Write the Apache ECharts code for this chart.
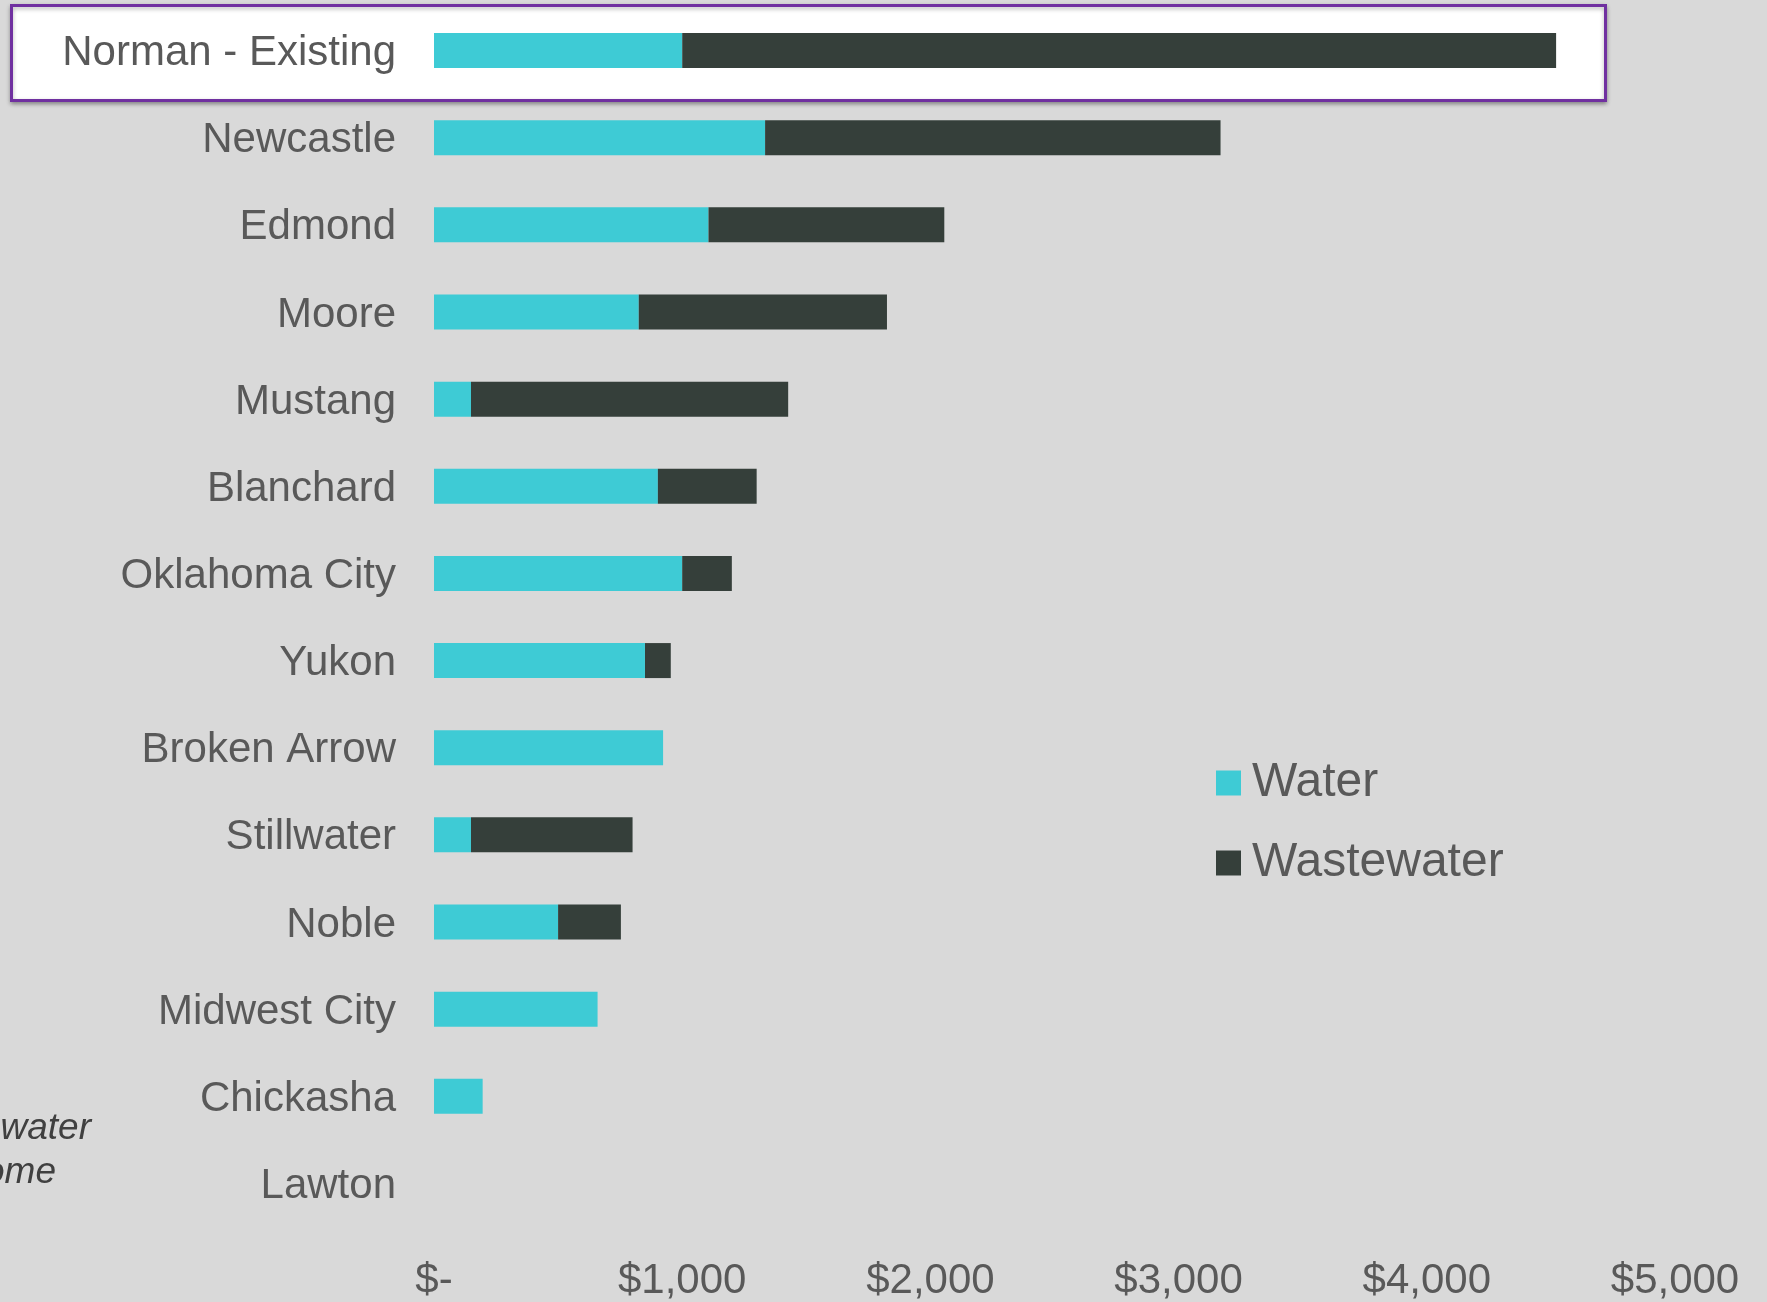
<!DOCTYPE html>
<html>
<head>
<meta charset="utf-8">
<script src="https://cdn.jsdelivr.net/npm/echarts@6/dist/echarts.min.js"></script>
<style>
html,body{margin:0;padding:0;background:#d9d9d9;}
#chart{width:1767px;height:1302px;}
</style>
</head>
<body>
<div id="chart"></div>
<script>
var categories = ['Norman - Existing','Newcastle','Edmond','Moore','Mustang','Blanchard','Oklahoma City','Yukon','Broken Arrow','Stillwater','Noble','Midwest City','Chickasha','Lawton'];
var waterValues = [1000, 1334, 1106, 825, 149, 902, 1000, 850, 923, 149, 500, 659, 196, 0];
var wastewaterValues = [3521, 1835, 950, 1000, 1278, 398, 200, 104, 0, 651, 253, 0, 0, 0];
var xTicks = [0, 1000, 2000, 3000, 4000, 5000];

var chart = echarts.init(document.getElementById('chart'), null, {renderer:'canvas'});
var font = 'Liberation Sans, Arial, Helvetica, sans-serif';
chart.setOption({
  backgroundColor: '#d9d9d9',
  animation: false,
  textStyle: {fontFamily: font},
  graphic: [
    {
      type: 'rect', z: -1,
      shape: {x: 11.5, y: 5.5, width: 1594, height: 95},
      style: {fill: '#ffffff', stroke: '#7030a0', lineWidth: 3,
              shadowBlur: 4, shadowColor: 'rgba(0,0,0,0.3)', shadowOffsetY: 2}
    },
    {
      type: 'text', z: 10,
      style: {x: 91, y: 1129, text: 'water', align: 'right', verticalAlign: 'middle',
              font: 'italic 37px ' + font, fill: '#404040'}
    },
    {
      type: 'text', z: 10,
      style: {x: 56, y: 1173, text: 'income', align: 'right', verticalAlign: 'middle',
              font: 'italic 37px ' + font, fill: '#404040'}
    }
  ],
  legend: {
    orient: 'vertical',
    left: 1211,
    top: 754,
    itemWidth: 25,
    itemHeight: 25,
    itemGap: 32,
    icon: 'rect',
    data: ['Water', 'Wastewater'],
    textStyle: {fontSize: 48, color: '#595959', fontFamily: font, padding: [0,0,0,6]}
  },
  grid: {left: 434, right: 92, top: 7, bottom: 72, containLabel: false},
  xAxis: {
    type: 'value',
    min: xTicks[0],
    max: xTicks[xTicks.length-1],
    interval: 1000,
    axisLine: {show: false},
    axisTick: {show: false},
    splitLine: {show: false},
    axisLabel: {
      fontSize: 42, color: '#595959', margin: 33, fontFamily: font,
      formatter: function(v){ return v === 0 ? '$-' : '$' + v.toLocaleString('en-US'); }
    }
  },
  yAxis: {
    type: 'category',
    inverse: true,
    data: categories,
    axisLine: {show: false},
    axisTick: {show: false},
    splitLine: {show: false},
    axisLabel: {
      fontSize: 42, color: '#595959', margin: 38, fontFamily: font,
      formatter: function(v){ return '{a|' + v + '}'; },
      rich: {a: {fontSize: 42, color: '#595959', fontFamily: font, padding: [6,0,0,0]}}
    }
  },
  series: [
    {
      name: 'Water', type: 'bar', stack: 'total', barWidth: 35,
      itemStyle: {color: '#3ecbd5'},
      data: waterValues
    },
    {
      name: 'Wastewater', type: 'bar', stack: 'total', barWidth: 35,
      itemStyle: {color: '#353f3a'},
      data: wastewaterValues
    }
  ]
});
</script>
</body>
</html>
